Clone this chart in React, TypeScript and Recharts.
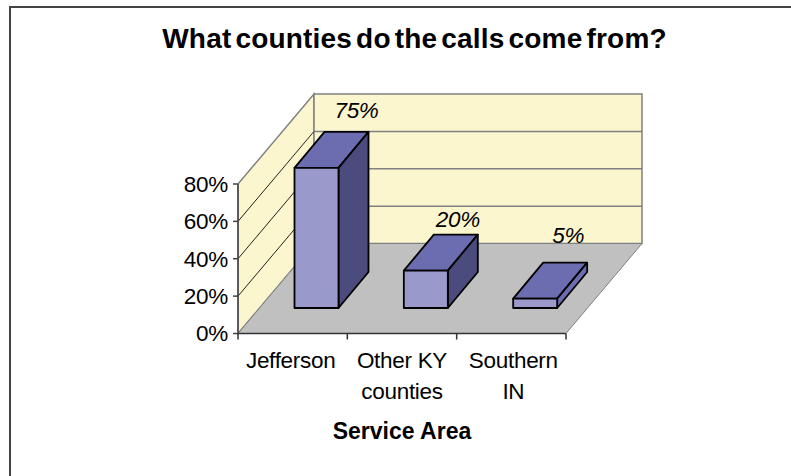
import { BarChart, Bar, XAxis, YAxis, CartesianGrid, ReferenceArea, LabelList, Label } from 'recharts'

const CATEGORIES = ['Jefferson', 'Other KY counties', 'Southern IN']
const SHARES = [75, 20, 5]
const Y_TICKS = [0, 20, 40, 60, 80]

const data = CATEGORIES.map((name, i) => ({ name, share: SHARES[i] }))

const FONT = '"Liberation Sans", Arial, sans-serif'
const DEPTH_X = 76
const DEPTH_Y = 90
// bars stand partway into the floor, with their own shallower depth
const BAR_SHIFT_X = 23.5
const BAR_SHIFT_Y = 25.5
const BAR_DEPTH_X = 30
const BAR_DEPTH_Y = 36

const pts = (list: number[][]) => list.map((p) => p.join(',')).join(' ')

// side wall, back wall and floor of the 3D box
function Room({ x, y, width, height }: any) {
  const bottom = y + height
  const right = x + width
  return (
    <g>
      <polygon
        points={pts([[x, y], [x + DEPTH_X, y - DEPTH_Y], [x + DEPTH_X, bottom - DEPTH_Y], [x, bottom]])}
        fill="#FBF6CE"
        stroke="#808080"
        strokeWidth={1.5}
      />
      <polygon
        points={pts([[x + DEPTH_X, y - DEPTH_Y], [right + DEPTH_X, y - DEPTH_Y], [right + DEPTH_X, bottom - DEPTH_Y], [x + DEPTH_X, bottom - DEPTH_Y]])}
        fill="#FBF6CE"
        stroke="#808080"
        strokeWidth={1.5}
      />
      <polygon
        points={pts([[x, bottom], [x + DEPTH_X, bottom - DEPTH_Y], [right + DEPTH_X, bottom - DEPTH_Y], [right, bottom]])}
        fill="#C0C0C0"
        stroke="#808080"
        strokeWidth={1}
      />
    </g>
  )
}

// each gridline runs up the side wall and across the back wall
function GridLine({ x1, x2, y1, index }: any) {
  if (index === 0 || index === Y_TICKS.length - 1) return <g />
  return (
    <g>
      <line x1={x1} y1={y1} x2={x1 + DEPTH_X} y2={y1 - DEPTH_Y} stroke="#222" strokeWidth={1} />
      <line x1={x1 + DEPTH_X} y1={y1 - DEPTH_Y} x2={x2 + DEPTH_X} y2={y1 - DEPTH_Y} stroke="#808080" strokeWidth={1.5} />
    </g>
  )
}

function Box3D({ x, y, width, height }: any) {
  const l = x + BAR_SHIFT_X
  const r = l + width
  const t = y - BAR_SHIFT_Y
  const b = t + height
  const dx = BAR_DEPTH_X
  const dy = BAR_DEPTH_Y
  return (
    <g stroke="#000" strokeWidth={1.8} strokeLinejoin="round">
      <polygon points={pts([[l, t], [l + dx, t - dy], [r + dx, t - dy], [r, t]])} fill="#6C6CB0" />
      <polygon points={pts([[r, t], [r + dx, t - dy], [r + dx, b - dy], [r, b]])} fill={height < 15 ? '#6C6CB0' : '#4B4B7D'} />
      <rect x={l} y={t} width={width} height={height} fill="#9999CC" />
    </g>
  )
}

// value labels float above the back edge of each box
const LABEL_OFFSET = [
  [40, -50],
  [32, -44],
  [33, -56],
]

function ShareLabel({ x, y, width, value, index }: any) {
  const [ox, oy] = LABEL_OFFSET[index]
  return (
    <text
      x={x + BAR_SHIFT_X + width / 2 + ox}
      y={y - BAR_SHIFT_Y + oy}
      textAnchor="middle"
      fontFamily={FONT}
      fontStyle="italic"
      fontSize={22.5}
      letterSpacing={-0.3}
      fill="#000"
    >
      {value}%
    </text>
  )
}

// tick marks sit on the category boundaries, labels wrap onto two lines
function CategoryTick({ x, y, width, payload, index, visibleTicksCount }: any) {
  const name: string = payload.value
  const cut = name.lastIndexOf(' ')
  const lines = cut > 0 ? [name.slice(0, cut), name.slice(cut + 1)] : [name]
  const step = width / visibleTicksCount
  const marks = index === visibleTicksCount - 1 ? [x - step / 2, x + step / 2] : [x - step / 2]
  const axisY = y - 8
  return (
    <g>
      {marks.map((mx) => (
        <line key={mx} x1={mx} y1={axisY} x2={mx} y2={axisY + 6} stroke="#333" strokeWidth={1.5} />
      ))}
      <text textAnchor="middle" fontFamily={FONT} fontSize={22.5} letterSpacing={-0.3} fill="#000">
        {lines.map((line, i) => (
          <tspan key={i} x={x + (index - 1) * 2} y={axisY + 34 + i * 31}>
            {line}
          </tspan>
        ))}
      </text>
    </g>
  )
}

export default function App() {
  return (
    <div style={{ position: 'absolute', left: 0, top: 0, width: 791, height: 476, background: '#fff', overflow: 'hidden' }}>
      <div style={{ position: 'absolute', left: 9, top: 6, width: 782, height: 470, borderLeft: '2px solid #444', borderTop: '2px solid #444' }} />
      <div
        style={{
          position: 'absolute',
          left: 0,
          top: 23,
          width: 829,
          textAlign: 'center',
          fontFamily: FONT,
          fontWeight: 700,
          fontSize: 28,
          letterSpacing: 0.2,
          wordSpacing: -4,
          color: '#000',
        }}
      >
        What counties do the calls come from?
      </div>
      <BarChart
        width={791}
        height={476}
        data={data}
        barSize={44}
        style={{ position: 'absolute', left: 0, top: 0 }}
        margin={{ top: 184, right: 225, bottom: 42.5, left: 0 }}
      >
        <ReferenceArea y1={0} y2={80} shape={<Room />} ifOverflow="visible" zIndex={-200} />
        <CartesianGrid vertical={false} horizontal={<GridLine />} />
        <XAxis
          dataKey="name"
          stroke="#333"
          strokeWidth={1.5}
          tickLine={false}
          tickSize={8}
          tickMargin={0}
          tick={<CategoryTick />}
          interval={0}
          height={100}
        >
          <Label value="Service Area" position="insideTop" dy={84} fontFamily={FONT} fontWeight={700} fontSize={23} fill="#000" />
        </XAxis>
        <YAxis
          domain={[0, 80]}
          ticks={Y_TICKS}
          interval={0}
          tickFormatter={(v) => `${v}%`}
          stroke="#444"
          strokeWidth={1.5}
          tickSize={5}
          tickMargin={5}
          tick={{ fontFamily: FONT, fontSize: 22.5, letterSpacing: -0.3, fill: '#000' }}
          width={238}
        />
        <Bar dataKey="share" shape={<Box3D />} isAnimationActive={false}>
          <LabelList dataKey="share" content={<ShareLabel />} />
        </Bar>
      </BarChart>
    </div>
  )
}
